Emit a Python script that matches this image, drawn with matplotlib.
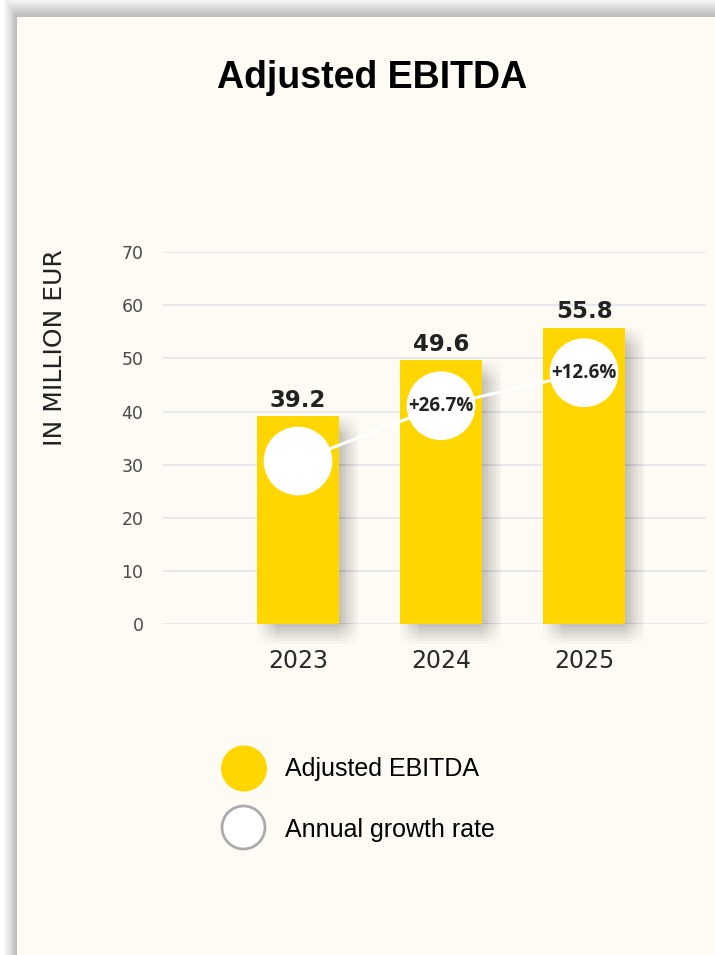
import matplotlib
matplotlib.use('Agg')
import matplotlib.pyplot as plt
import matplotlib.patheffects as pe
from matplotlib.patches import Rectangle, Circle

years = ['2023', '2024', '2025']
ebitda = [39.2, 49.6, 55.8]
growth = [None, 26.7, 12.6]     # annual growth rate in %
yticks = [0, 10, 20, 30, 40, 50, 60, 70]

bar_color = '#FFD600'
card_color = '#FDFBF4'
circle_drop = 8.5               # circles sit this far below the bar top

fig = plt.figure(figsize=(7.15, 9.55), dpi=100, facecolor='white')

# background card with a soft shadow along the top and left edges
bg = fig.add_axes([0, 0, 1, 1], zorder=-5)
bg.set_xlim(0, 715)
bg.set_ylim(955, 0)
bg.axis('off')
for k in range(1, 15):
    bg.add_patch(Rectangle((17 - k * 0.9, 17 - k * 1.3), 900, 1200,
                           facecolor='#000000', alpha=0.018, lw=0))
bg.add_patch(Rectangle((17, 17), 900, 1200, facecolor=card_color, lw=0))

bg.text(372, 78, 'Adjusted EBITDA', ha='center', va='center',
        fontsize=27, fontweight='bold', family='Liberation Sans', color='black')

# legend
bg.add_patch(Circle((244, 768.5), 23, facecolor=bar_color, lw=0))
bg.add_patch(Circle((243.5, 827.5), 21.5, facecolor='white', edgecolor='#ababab', lw=2))
bg.text(285, 769, 'Adjusted EBITDA', ha='left', va='center',
        fontsize=18, family='Liberation Sans', color='black')
bg.text(285, 830, 'Annual growth rate', ha='left', va='center',
        fontsize=18, family='Liberation Sans', color='black')

# main chart
ax = fig.add_axes([163 / 715, (955 - 624.3) / 955, 543 / 715, 372.3 / 955])
ax.patch.set_alpha(0)
x = list(range(len(years)))

# soft drop shadow: many faint offset copies
shadow = [pe.SimplePatchShadow(offset=(ox, -oy), shadow_rgbFace='#000000', alpha=0.0055)
          for ox in range(0, 16, 2) for oy in range(0, 16, 2)]
bars = ax.bar(x, ebitda, width=0.573, color=bar_color, zorder=2, clip_on=False)
for b in bars:
    b.set_path_effects(shadow + [pe.Normal()])

for xi, v in zip(x, ebitda):
    ax.annotate(f'{v}', (xi, v), xytext=(0, 3), textcoords='offset points',
                ha='center', va='bottom', fontsize=16.5, fontweight='bold',
                family='DejaVu Sans', color='#222222', zorder=5)

cy = [v - circle_drop for v in ebitda]
ax.plot(x, cy, color='white', lw=2.2, zorder=3, solid_capstyle='round')
ax.scatter(x, cy, s=2450, color='white', edgecolors='none', zorder=4)
for xi, yi, g in zip(x, cy, growth):
    if g is not None:
        ax.text(xi, yi, f'+{g}%', ha='center', va='center', fontsize=13.5,
                fontweight='bold', family='Open Sans', color='#222222', zorder=5)

ax.set_xlim(-0.944, 2.853)
ax.set_ylim(0, 70)
ax.set_yticks(yticks)
ax.set_xticks(x)
ax.set_xticklabels(years)
ax.tick_params(axis='y', length=0, pad=14, labelsize=12.5, labelcolor='#4a4a4a')
ax.tick_params(axis='x', length=0, pad=18, labelsize=17, labelcolor='#2a2a2a')
for spine in ax.spines.values():
    spine.set_visible(False)
ax.set_axisbelow(True)
ax.grid(axis='y', color='#E4E6EA', lw=1.3, zorder=0)

fig.text(55.5 / 715, 1 - 348 / 955, 'IN MILLION EUR', rotation=90, ha='center',
         va='center', fontsize=18, color='#222222', family='DejaVu Sans')

fig.savefig('out.png', dpi=100, facecolor=fig.get_facecolor())
